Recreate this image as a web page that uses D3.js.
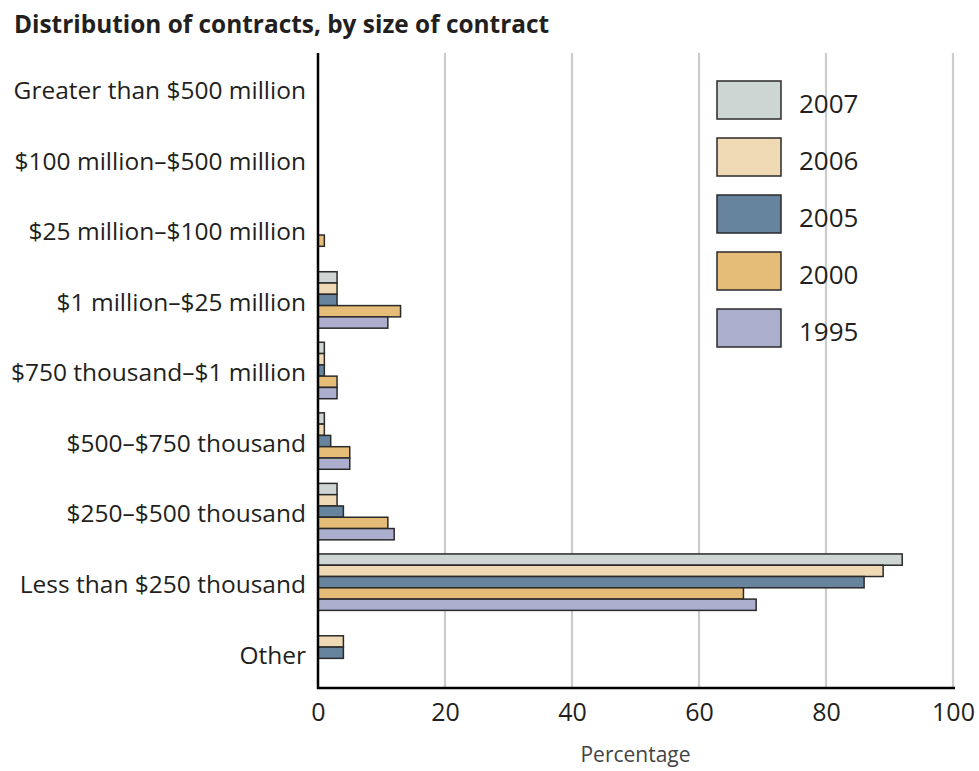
<!DOCTYPE html>
<html>
<head>
<meta charset="utf-8">
<script src="https://cdn.jsdelivr.net/npm/d3@7/dist/d3.min.js"></script>
<style>
  html, body { margin: 0; padding: 0; background: #fff; }
  svg { display: block; }
  text { font-family: "Open Sans", "DejaVu Sans", sans-serif; }
</style>
</head>
<body>
<svg id="chart" width="979" height="771"></svg>
<script>
// Contract size categories, top to bottom
const categories = [
  "Greater than $500 million",
  "$100 million\u2013$500 million",
  "$25 million\u2013$100 million",
  "$1 million\u2013$25 million",
  "$750 thousand\u2013$1 million",
  "$500\u2013$750 thousand",
  "$250\u2013$500 thousand",
  "Less than $250 thousand",
  "Other"
];

// Years, in the order the bars are stacked within each category
const years = ["2007", "2006", "2005", "2000", "1995"];

// Percentage of contracts per category, one array per year
const values2007 = [0, 0, 0, 3, 1, 1, 3, 92, 0];
const values2006 = [0, 0, 0, 3, 1, 1, 3, 89, 4];
const values2005 = [0, 0, 0, 3, 1, 2, 4, 86, 4];
const values2000 = [0, 0, 1, 13, 3, 5, 11, 67, 0];
const values1995 = [0, 0, 0, 11, 3, 5, 12, 69, 0];

const seriesValues = {
  "2007": values2007,
  "2006": values2006,
  "2005": values2005,
  "2000": values2000,
  "1995": values1995
};

const xTicks = [0, 20, 40, 60, 80, 100];

const colors = {
  "2007": "#cdd6d2",
  "2006": "#f0dab5",
  "2005": "#67849f",
  "2000": "#e6bd78",
  "1995": "#abaecd"
};

const svg = d3.select("#chart");

const plotLeft = 318, plotRight = 953, plotTop = 53, plotBottom = 688;

const x = d3.scaleLinear().domain([0, 100]).range([plotLeft, plotRight]);
const y = d3.scaleBand().domain(categories).range([plotTop, plotBottom])
  .paddingInner(0.2).paddingOuter(0.1);
const ySub = d3.scaleBand().domain(years).range([0, y.bandwidth()]);

// Title
svg.append("text")
  .attr("x", 14).attr("y", 33)
  .attr("font-size", 24.4).attr("font-weight", 700)
  .attr("fill", "#231f20")
  .text("Distribution of contracts, by size of contract");

// Vertical gridlines
svg.append("g").selectAll("line")
  .data(xTicks.filter(t => t > 0))
  .join("line")
  .attr("x1", d => x(d)).attr("x2", d => x(d))
  .attr("y1", plotTop).attr("y2", plotBottom)
  .attr("stroke", "#cccccc").attr("stroke-width", 2.2);

// Legend
const legend = svg.append("g");
years.forEach((yr, i) => {
  const ly = 81 + i * 57;
  legend.append("rect")
    .attr("x", 717).attr("y", ly)
    .attr("width", 64).attr("height", 38)
    .attr("fill", colors[yr]).attr("stroke", "#2a2a2a").attr("stroke-width", 1.5);
  legend.append("text")
    .attr("x", 799).attr("y", ly + 32)
    .attr("font-size", 26).attr("fill", "#231f20")
    .text(yr);
});

// Bars
const rows = [];
categories.forEach((c, ci) => {
  years.forEach(yr => {
    const v = seriesValues[yr][ci];
    if (v > 0) rows.push({ category: c, year: yr, value: v });
  });
});

svg.append("g").selectAll("rect")
  .data(rows)
  .join("rect")
  .attr("x", x(0))
  .attr("y", d => y(d.category) + ySub(d.year))
  .attr("width", d => x(d.value) - x(0))
  .attr("height", ySub.bandwidth())
  .attr("fill", d => colors[d.year])
  .attr("stroke", "#2a2a2a")
  .attr("stroke-width", 1.5);

// Y axis (category labels, no ticks)
const yAxis = svg.append("g")
  .attr("transform", `translate(${plotLeft},0)`)
  .call(d3.axisLeft(y).tickSize(0).tickPadding(12));
yAxis.select(".domain").remove();
yAxis.selectAll("text")
  .attr("font-size", 24.5)
  .attr("fill", "#231f20")
  .attr("dy", "0.44em")
  .attr("font-family", "'Open Sans', sans-serif");

// X axis
const xAxis = svg.append("g")
  .attr("transform", `translate(0,${plotBottom})`)
  .call(d3.axisBottom(x).tickValues(xTicks).tickSize(0).tickPadding(15));
xAxis.select(".domain").remove();
xAxis.selectAll("text")
  .attr("font-size", 25)
  .attr("fill", "#231f20")
  .attr("font-family", "'Open Sans', sans-serif");

// Axis lines
svg.append("line")
  .attr("x1", plotLeft).attr("x2", plotLeft)
  .attr("y1", plotTop).attr("y2", plotBottom + 1)
  .attr("stroke", "#000").attr("stroke-width", 2.5);
svg.append("line")
  .attr("x1", plotLeft - 1).attr("x2", plotRight + 2)
  .attr("y1", plotBottom).attr("y2", plotBottom)
  .attr("stroke", "#000").attr("stroke-width", 2.5);

// X axis title
svg.append("text")
  .attr("x", (plotLeft + plotRight) / 2).attr("y", 762)
  .attr("text-anchor", "middle")
  .attr("font-size", 21).attr("fill", "#444")
  .text("Percentage");
</script>
</body>
</html>
